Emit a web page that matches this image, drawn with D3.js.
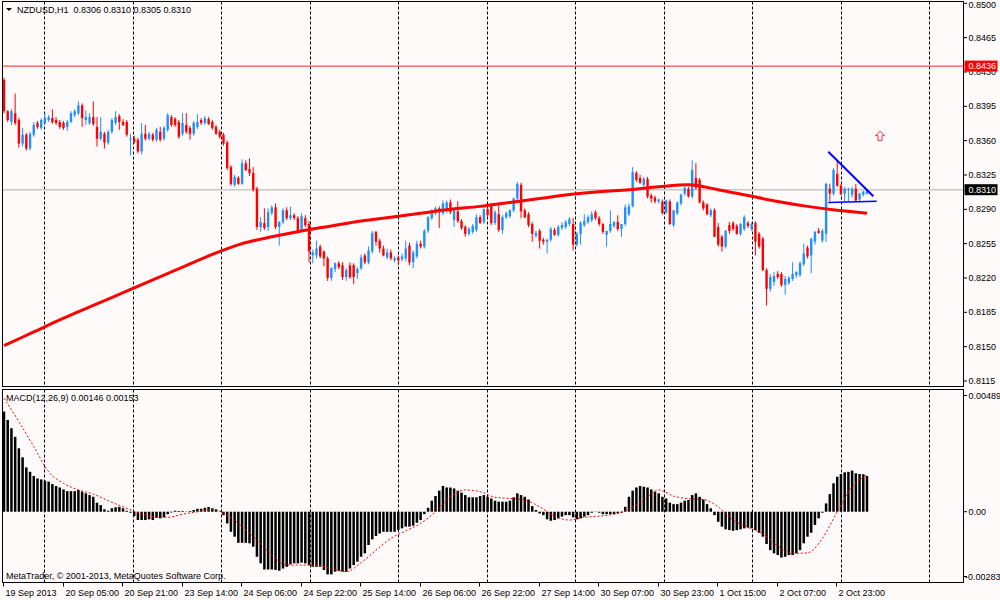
<!DOCTYPE html>
<html>
<head>
<meta charset="utf-8">
<script src="https://cdn.jsdelivr.net/npm/d3@7"></script>
<style>
html, body { margin: 0; padding: 0; background: #fffafa; }
svg { display: block; font-family: "Liberation Sans", Arial, sans-serif; }
</style>
</head>
<body>
<div id="chart"></div>
<script>
/* === NZDUSD H1 candles + MA + MACD (D3.js v7) === */

var symbolTitle = 'NZDUSD,H1  0.8306 0.8310 0.8305 0.8310';
var macdTitle = 'MACD(12,26,9) 0.00146 0.00153';
var copyright = 'MetaTrader, \u00a9 2001-2013, MetaQuotes Software Corp.';

// hourly bars, index 0 = 19 Sep 2013 13:00
var opens = [
    .8422,.8390,.8379,.8388,.8381,.8357,.8366,.8352,.8366,.8378,
    .8373,.8378,.8381,.8383,.8381,.8379,.8378,.8374,.8379,.8386,
    .8388,.8396,.8381,.8378,.8384,.8374,.8362,.8367,.8358,.8369,
    .8378,.8385,.8379,.8379,.8361,.8362,.8361,.8349,.8367,.8362,
    .8366,.8361,.8369,.8362,.8371,.8384,.8382,.8379,.8367,.8376,
    .8373,.8367,.8374,.8381,.8378,.8382,.8379,.8374,.8369,.8366,
    .8358,.8333,.8315,.8322,.8316,.8337,.8331,.8327,.8311,.8272,
    .8276,.8272,.8286,.8292,.8272,.8277,.8289,.8281,.8284,.8281,
    .8269,.8281,.8275,.8243,.8243,.8252,.8247,.8240,.8220,.8229,
    .8235,.8233,.8221,.8233,.8233,.8225,.8230,.8243,.8236,.8247,
    .8267,.8258,.8250,.8241,.8246,.8238,.8241,.8239,.8240,.8253,
    .8236,.8242,.8255,.8252,.8268,.8281,.8286,.8291,.8286,.8289,
    .8297,.8279,.8288,.8278,.8272,.8265,.8267,.8269,.8282,.8277,
    .8290,.8294,.8276,.8285,.8269,.8282,.8283,.8289,.8301,.8315,
    .8289,.8285,.8275,.8263,.8268,.8259,.8257,.8259,.8269,.8264,
    .8271,.8272,.8275,.8275,.8254,.8265,.8274,.8277,.8279,.8287,
    .8281,.8275,.8264,.8268,.8273,.8277,.8270,.8275,.8285,.8293,
    .8327,.8322,.8315,.8321,.8304,.8302,.8298,.8298,.8287,.8298,
    .8274,.8286,.8296,.8306,.8311,.8303,.8322,.8320,.8297,.8295,
    .8284,.8289,.8272,.8262,.8252,.8274,.8276,.8273,.8265,.8270,
    .8276,.8270,.8276,.8265,.8260,.8228,.8209,.8216,.8224,.8224,
    .8213,.8215,.8219,.8223,.8223,.8234,.8251,.8243,.8257,.8268,
    .8258,.8265,.8311,.8306,.8326,.8314,.8306,.8310,.8305,.8311,
    .8300,.8305,.8306
];
var highs = [
    .8424,.8391,.8392,.8408,.8383,.8373,.8368,.8369,.8379,.8380,
    .8383,.8388,.8386,.8392,.8384,.8381,.8380,.8381,.8390,.8392,
    .8400,.8398,.8391,.8388,.8400,.8384,.8384,.8369,.8371,.8383,
    .8390,.8387,.8382,.8381,.8367,.8365,.8363,.8378,.8376,.8369,
    .8368,.8373,.8374,.8375,.8388,.8386,.8384,.8381,.8388,.8388,
    .8375,.8380,.8387,.8383,.8385,.8384,.8381,.8376,.8371,.8368,
    .8360,.8335,.8325,.8324,.8341,.8340,.8342,.8333,.8313,.8282,
    .8291,.8291,.8294,.8296,.8278,.8291,.8292,.8293,.8286,.8283,
    .8286,.8284,.8278,.8249,.8258,.8254,.8248,.8242,.8231,.8236,
    .8237,.8236,.8230,.8236,.8235,.8231,.8244,.8245,.8252,.8268,
    .8268,.8260,.8253,.8250,.8249,.8242,.8243,.8245,.8258,.8256,
    .8248,.8258,.8258,.8270,.8283,.8290,.8293,.8293,.8299,.8299,
    .8300,.8291,.8298,.8280,.8274,.8272,.8275,.8285,.8284,.8291,
    .8292,.8296,.8289,.8294,.8284,.8288,.8290,.8302,.8318,.8317,
    .8291,.8287,.8277,.8268,.8270,.8261,.8260,.8272,.8271,.8274,
    .8277,.8279,.8282,.8281,.8267,.8278,.8285,.8284,.8288,.8289,
    .8283,.8276,.8268,.8289,.8278,.8284,.8275,.8295,.8296,.8333,
    .8329,.8325,.8323,.8323,.8306,.8304,.8301,.8300,.8300,.8300,
    .8289,.8298,.8306,.8313,.8313,.8340,.8337,.8322,.8299,.8296,
    .8291,.8291,.8276,.8264,.8269,.8277,.8278,.8275,.8276,.8284,
    .8278,.8277,.8278,.8267,.8262,.8230,.8224,.8226,.8227,.8226,
    .8222,.8222,.8236,.8227,.8237,.8255,.8253,.8261,.8268,.8271,
    .8270,.8317,.8316,.8332,.8340,.8316,.8313,.8312,.8313,.8316,
    .8307,.8309,.8310
];
var lows = [
    .8388,.8379,.8376,.8376,.8353,.8354,.8350,.8350,.8364,.8372,
    .8371,.8376,.8379,.8377,.8376,.8372,.8371,.8370,.8378,.8384,
    .8386,.8374,.8376,.8376,.8375,.8354,.8360,.8352,.8356,.8367,
    .8376,.8371,.8375,.8364,.8345,.8357,.8347,.8346,.8360,.8360,
    .8359,.8359,.8359,.8360,.8369,.8374,.8374,.8362,.8365,.8367,
    .8361,.8365,.8372,.8376,.8376,.8376,.8371,.8366,.8362,.8355,
    .8330,.8314,.8313,.8315,.8315,.8329,.8324,.8308,.8269,.8267,
    .8269,.8268,.8284,.8270,.8253,.8275,.8279,.8279,.8279,.8265,
    .8267,.8272,.8236,.8235,.8240,.8240,.8232,.8217,.8217,.8226,
    .8229,.8218,.8217,.8219,.8214,.8219,.8228,.8234,.8234,.8245,
    .8253,.8246,.8242,.8239,.8238,.8236,.8233,.8237,.8237,.8233,
    .8230,.8240,.8250,.8250,.8266,.8279,.8284,.8271,.8284,.8286,
    .8285,.8272,.8276,.8269,.8262,.8263,.8265,.8267,.8275,.8275,
    .8282,.8274,.8274,.8267,.8265,.8280,.8281,.8287,.8299,.8281,
    .8281,.8272,.8257,.8261,.8250,.8254,.8245,.8257,.8263,.8262,
    .8269,.8270,.8273,.8248,.8252,.8254,.8272,.8275,.8277,.8279,
    .8273,.8265,.8252,.8266,.8271,.8268,.8262,.8273,.8283,.8292,
    .8318,.8316,.8313,.8301,.8297,.8296,.8296,.8285,.8285,.8274,
    .8272,.8284,.8294,.8304,.8302,.8301,.8310,.8296,.8289,.8284,
    .8282,.8262,.8252,.8247,.8250,.8265,.8268,.8264,.8263,.8268,
    .8271,.8268,.8243,.8250,.8227,.8192,.8206,.8212,.8219,.8211,
    .8203,.8213,.8217,.8220,.8221,.8232,.8240,.8225,.8254,.8265,
    .8256,.8257,.8298,.8304,.8313,.8304,.8298,.8298,.8302,.8298,
    .8298,.8303,.8305
];
var closes = [
    .8390,.8381,.8390,.8378,.8357,.8366,.8352,.8367,.8376,.8374,
    .8381,.8383,.8384,.8379,.8378,.8374,.8373,.8379,.8388,.8390,
    .8396,.8383,.8384,.8384,.8377,.8362,.8369,.8358,.8369,.8381,
    .8384,.8379,.8376,.8366,.8362,.8359,.8349,.8367,.8362,.8367,
    .8361,.8371,.8361,.8373,.8386,.8376,.8376,.8364,.8378,.8369,
    .8367,.8378,.8379,.8378,.8383,.8377,.8373,.8367,.8364,.8357,
    .8332,.8316,.8323,.8316,.8337,.8330,.8327,.8310,.8272,.8277,
    .8271,.8287,.8292,.8272,.8277,.8289,.8281,.8284,.8281,.8267,
    .8283,.8274,.8247,.8246,.8250,.8242,.8240,.8220,.8230,.8235,
    .8231,.8221,.8228,.8221,.8221,.8229,.8241,.8236,.8248,.8266,
    .8257,.8250,.8243,.8246,.8240,.8240,.8238,.8242,.8250,.8236,
    .8246,.8255,.8252,.8268,.8282,.8289,.8291,.8287,.8296,.8297,
    .8287,.8289,.8278,.8271,.8265,.8270,.8273,.8282,.8276,.8290,
    .8284,.8276,.8287,.8269,.8282,.8286,.8289,.8301,.8316,.8288,
    .8282,.8274,.8265,.8266,.8258,.8257,.8259,.8270,.8264,.8272,
    .8274,.8277,.8280,.8254,.8265,.8276,.8278,.8282,.8285,.8281,
    .8275,.8267,.8268,.8275,.8277,.8270,.8275,.8292,.8293,.8328,
    .8320,.8317,.8321,.8303,.8301,.8298,.8300,.8286,.8299,.8275,
    .8289,.8297,.8305,.8312,.8303,.8330,.8312,.8297,.8291,.8285,
    .8289,.8262,.8254,.8252,.8268,.8268,.8270,.8265,.8275,.8282,
    .8273,.8275,.8257,.8252,.8228,.8209,.8221,.8222,.8221,.8213,
    .8219,.8220,.8224,.8226,.8235,.8245,.8242,.8260,.8267,.8266,
    .8268,.8316,.8306,.8330,.8314,.8306,.8311,.8311,.8311,.8299,
    .8306,.8308,.8310
];

// moving average, read every 8 bars
var maBars = [0,8,16,24,32,40,48,56,64,72,80,88,96,104,112,120,128,136,144,152,160,168,176,184,192,200,208,216,224,232];
var maValues = [.8151,.8165,.8179,.8192,.8205,.8218,.8231,.8244,.8255,.8262,.8268,.8273,.8278,.8282,.8286,
    .8290,.8293,.8297,.8301,.8305,.8308,.8310,.8313,.8315,.8310,.8304,.8298,.8293,.8289,.8286];

// MACD main (histogram), one value per bar
var macdMain = [
    .00409,.00375,.00341,.00306,.00259,.00222,.00181,.00163,.00146,.00136,
    .00132,.00127,.00123,.00113,.00105,.00099,.00091,.00084,.00084,.00084,
    .00089,.00082,.00075,.00068,.00061,.00037,.00027,.00010,.00004,.00014,
    .00018,.00020,.00014,.00004,-.00004,-.00018,-.00034,-.00034,-.00034,-.00031,
    -.00034,-.00025,-.00027,-.00023,-.00010,-.00003,.00004,.00003,.00003,.00001,
    .00003,.00007,.00012,.00012,.00016,.00019,.00014,.00010,-.00001,-.00014,
    -.00048,-.00082,-.00102,-.00127,-.00127,-.00127,-.00129,-.00143,-.00184,-.00211,
    -.00236,-.00236,-.00236,-.00238,-.00241,-.00232,-.00225,-.00215,-.00211,-.00211,
    -.00208,-.00211,-.00218,-.00225,-.00225,-.00225,-.00238,-.00256,-.00256,-.00245,
    -.00242,-.00245,-.00245,-.00232,-.00218,-.00204,-.00184,-.00170,-.00136,-.00113,
    -.00099,-.00089,-.00082,-.00082,-.00082,-.00082,-.00075,-.00068,-.00061,-.00061,
    -.00057,-.00045,-.00034,-.00010,.00016,.00045,.00064,.00086,.00105,.00099,
    .00099,.00095,.00086,.00078,.00068,.00059,.00059,.00059,.00064,.00068,
    .00061,.00054,.00045,.00041,.00041,.00041,.00045,.00059,.00075,.00068,
    .00061,.00050,.00023,.00007,-.00007,-.00014,-.00031,-.00037,-.00034,-.00027,
    -.00020,-.00014,-.00014,-.00023,-.00031,-.00027,-.00020,-.00014,-.00004,.00001,
    -.00004,-.00010,-.00010,-.00010,-.00010,-.00007,-.00004,.00020,.00061,.00086,
    .00099,.00105,.00102,.00099,.00091,.00082,.00075,.00061,.00054,.00037,
    .00031,.00031,.00037,.00045,.00048,.00068,.00075,.00061,.00050,.00031,
    .00014,-.00014,-.00041,-.00061,-.00072,-.00075,-.00078,-.00075,-.00072,-.00068,
    -.00065,-.00068,-.00075,-.00086,-.00102,-.00132,-.00157,-.00170,-.00177,-.00187,
    -.00184,-.00177,-.00177,-.00170,-.00157,-.00129,-.00102,-.00086,-.00054,-.00027,
    -.00004,.00034,.00072,.00116,.00143,.00154,.00161,.00163,.00168,.00157,
    .00154,.00153,.00146
];

// MACD signal, read every 4 bars
var signalBars = d3.range(0, 233, 4);
var signalValues = [
    .00463,.00368,.00266,.00163,.00116,.00089,.00072,.00045,.00020,-.00004,
    -.00020,-.00023,-.00010,.00000,.00010,-.00014,-.00061,-.00116,-.00177,-.00218,
    -.00218,-.00218,-.00232,-.00245,-.00208,-.00157,-.00109,-.00078,-.00048,.00000,
    .00061,.00089,.00082,.00059,.00054,.00048,.00020,-.00018,-.00034,-.00023,
    -.00018,-.00010,.00010,.00048,.00089,.00064,.00053,.00050,.00020,-.00034,
    -.00064,-.00091,-.00140,-.00170,-.00168,-.00109,.00000,.00102,.00150
];

var priceTicks = [.8500,.8465,.8430,.8395,.8360,.8325,.8290,.8255,.8220,.8185,.8150,.8115];
var timeBars = [0,16,32,48,64,80,96,112,128,144,160,176,192,208,224];
var timeLabels = ['19 Sep 2013','20 Sep 05:00','20 Sep 21:00','23 Sep 14:00','24 Sep 06:00',
    '24 Sep 22:00','25 Sep 14:00','26 Sep 06:00','26 Sep 22:00','27 Sep 14:00',
    '30 Sep 07:00','30 Sep 23:00','1 Oct 15:00','2 Oct 07:00','2 Oct 23:00'];

var levelPrice = 0.8436;
var lastPrice = 0.8310;
var macdMax = 0.00489, macdMin = -0.00283;

// drawn objects: triangle lines and arrow
var trendLines = [
    { b1: 221.6, p1: 0.83486, b2: 233.7, p2: 0.83034, w: 2 },
    { b1: 221.6, p1: 0.82969, b2: 234.6, p2: 0.82983, w: 1.6 }
];
var arrowMark = { bar: 235.5, price: 0.83646 };

/* ---------- layout ---------- */
var W = 1000, H = 600;
var L = 2.5, R = 963.5;
var mainTop = 1.5, mainBottom = 386.5;
var macdTop = 389.5, macdBottom = 582.5;
var BULL = '#1e90ff', BEAR = '#ff0000';

var svg = d3.select('#chart').append('svg')
    .attr('width', W).attr('height', H)
    .attr('viewBox', '0 0 ' + W + ' ' + H);

svg.append('rect').attr('width', W).attr('height', H).attr('fill', '#fffafa');

var x = d3.scaleLinear().domain([0, 232]).range([4, 867]);
var y = d3.scaleLinear().domain([0.8115, 0.8500]).range([381, 3.3]);
var ym = d3.scaleLinear().domain([macdMin, macdMax]).range([581, 392]);

var defs = svg.append('defs');
defs.append('clipPath').attr('id', 'clipMain').append('rect')
    .attr('x', L).attr('y', mainTop).attr('width', R - L).attr('height', mainBottom - mainTop);
defs.append('clipPath').attr('id', 'clipMacd').append('rect')
    .attr('x', L).attr('y', macdTop).attr('width', R - L).attr('height', macdBottom - macdTop);

// grid (vertical dashed)
var gridBars = d3.range(0, 11).map(function(k) { return 10.8 + 23.8 * k; });
[[mainTop, mainBottom], [macdTop, macdBottom]].forEach(function(span) {
    svg.append('g').selectAll('line')
        .data(gridBars)
        .join('line')
        .attr('x1', function(d) { return Math.round(x(d)) + 0.5; })
        .attr('x2', function(d) { return Math.round(x(d)) + 0.5; })
        .attr('y1', span[0]).attr('y2', span[1])
        .attr('stroke', '#000').attr('stroke-width', 1)
        .attr('stroke-dasharray', '3,2');
});

/* ---------- main panel ---------- */
var main = svg.append('g').attr('clip-path', 'url(#clipMain)');

// horizontal level + current price line
main.append('line')
    .attr('x1', L).attr('x2', R)
    .attr('y1', y(levelPrice)).attr('y2', y(levelPrice))
    .attr('stroke', '#ff2020').attr('stroke-width', 1);
main.append('line')
    .attr('x1', L).attr('x2', R)
    .attr('y1', y(lastPrice)).attr('y2', y(lastPrice))
    .attr('stroke', '#c8c8c8').attr('stroke-width', 1.5);

var bars = d3.range(closes.length).map(function(i) {
    return { i: i, o: opens[i], h: highs[i], l: lows[i], c: closes[i] };
});

var candle = main.append('g').selectAll('g')
    .data(bars)
    .join('g')
    .attr('stroke', function(d) { return d.c >= d.o ? BULL : BEAR; })
    .attr('fill', function(d) { return d.c >= d.o ? BULL : BEAR; });

candle.append('line')
    .attr('x1', function(d) { return x(d.i); })
    .attr('x2', function(d) { return x(d.i); })
    .attr('y1', function(d) { return y(d.h); })
    .attr('y2', function(d) { return y(d.l); })
    .attr('stroke-width', 1);

candle.append('rect')
    .attr('stroke', 'none')
    .attr('x', function(d) { return x(d.i) - 1.2; })
    .attr('width', 2.4)
    .attr('y', function(d) { return y(Math.max(d.o, d.c)); })
    .attr('height', function(d) { return Math.max(1, Math.abs(y(d.o) - y(d.c))); });

// moving average
var maLine = d3.line()
    .x(function(d) { return x(d[0]); })
    .y(function(d) { return y(d[1]); })
    .curve(d3.curveMonotoneX);
main.append('path')
    .datum(maBars.map(function(b, k) { return [b, maValues[k]]; }))
    .attr('d', maLine)
    .attr('fill', 'none')
    .attr('stroke', '#ff0000')
    .attr('stroke-width', 3)
    .attr('stroke-linejoin', 'round');

// triangle
main.append('g').selectAll('line')
    .data(trendLines)
    .join('line')
    .attr('x1', function(d) { return x(d.b1); })
    .attr('y1', function(d) { return y(d.p1); })
    .attr('x2', function(d) { return x(d.b2); })
    .attr('y2', function(d) { return y(d.p2); })
    .attr('stroke', '#0000ff')
    .attr('stroke-width', function(d) { return d.w; });

// up arrow
var ax = x(arrowMark.bar), ay = y(arrowMark.price);
main.append('path')
    .attr('transform', 'translate(' + ax + ',' + ay + ')')
    .attr('d', 'M0,-5L4.5,-0.5L2,-0.5L2,4.5L-2,4.5L-2,-0.5L-4.5,-0.5Z')
    .attr('fill', '#fff4f4')
    .attr('stroke', '#ff3040')
    .attr('stroke-width', 1);

/* ---------- MACD panel ---------- */
var macd = svg.append('g').attr('clip-path', 'url(#clipMacd)');

macd.append('g').selectAll('rect')
    .data(macdMain)
    .join('rect')
    .attr('x', function(d, i) { return x(i) - 1.25; })
    .attr('width', 2.5)
    .attr('y', function(d) { return ym(Math.max(0, d)); })
    .attr('height', function(d) { return Math.abs(ym(d) - ym(0)); })
    .attr('fill', '#000');

var sigLine = d3.line()
    .x(function(d) { return x(d[0]); })
    .y(function(d) { return ym(d[1]); })
    .curve(d3.curveMonotoneX);
macd.append('path')
    .datum(signalBars.map(function(b, k) { return [b, signalValues[k]]; }))
    .attr('d', sigLine)
    .attr('fill', 'none')
    .attr('stroke', '#ff0000')
    .attr('stroke-width', 1)
    .attr('stroke-dasharray', '2,2');

/* ---------- frames ---------- */
[[mainTop, mainBottom], [macdTop, macdBottom]].forEach(function(span) {
    svg.append('rect')
        .attr('x', L).attr('y', span[0])
        .attr('width', R - L).attr('height', span[1] - span[0])
        .attr('fill', 'none').attr('stroke', '#000').attr('stroke-width', 1);
});

/* ---------- price axis ---------- */
var axisG = svg.append('g').attr('font-size', 9).attr('fill', '#000');

var pt = axisG.selectAll('g.pt')
    .data(priceTicks)
    .join('g')
    .attr('class', 'pt')
    .attr('transform', function(d) { return 'translate(0,' + y(d) + ')'; });
pt.append('line').attr('x1', R).attr('x2', R + 3.5).attr('stroke', '#000');
pt.append('text').attr('x', R + 5)
    .attr('dy', function(d, i) { return i === 0 ? '0.5em' : '0.35em'; })
    .text(function(d) { return d.toFixed(4); });

function priceTag(value, bg) {
    var g = axisG.append('g').attr('transform', 'translate(0,' + y(value) + ')');
    g.append('rect').attr('x', R + 1).attr('y', -5.5).attr('width', 33).attr('height', 11).attr('fill', bg);
    g.append('text').attr('x', R + 5).attr('dy', '0.35em').attr('fill', '#fff')
        .text(value.toFixed(4));
}
priceTag(levelPrice, '#ff0000');
priceTag(lastPrice, '#000');

// MACD axis
var macdTicks = [
    { v: macdMax, off: 3.5, label: '0.00489' },
    { v: 0, off: 0, label: '0.00' },
    { v: macdMin, off: -4.5, label: '-0.00283' }
];
var mt = axisG.selectAll('g.mt')
    .data(macdTicks)
    .join('g')
    .attr('class', 'mt')
    .attr('transform', function(d) { return 'translate(0,' + (ym(d.v) + d.off) + ')'; });
mt.append('line').attr('x1', R).attr('x2', R + 3.5).attr('stroke', '#000');
mt.append('text')
    .attr('x', function(d) { return d.v < 0 ? R + 1.5 : R + 5; })
    .attr('dy', '0.35em')
    .text(function(d) { return d.label; });

/* ---------- time axis ---------- */
var tt = axisG.selectAll('g.tt')
    .data(timeBars)
    .join('g')
    .attr('class', 'tt')
    .attr('transform', function(d) { return 'translate(' + (Math.round(x(d)) - 0.5) + ',0)'; });
tt.append('line').attr('y1', macdBottom).attr('y2', macdBottom + 4).attr('stroke', '#000');
tt.append('text').attr('x', 2).attr('y', 595.5)
    .text(function(d, i) { return timeLabels[i]; });

/* ---------- titles ---------- */
svg.append('path').attr('d', 'M6,8L12,8L9,11Z').attr('fill', '#000');
svg.append('text').attr('x', 17).attr('y', 13).attr('font-size', 9).text(symbolTitle)
    .attr('xml:space', 'preserve').style('white-space', 'pre');
svg.append('text').attr('x', 6).attr('y', 401).attr('font-size', 9).text(macdTitle);
svg.append('text').attr('x', 6).attr('y', 579).attr('font-size', 9).text(copyright);
</script>
</body>
</html>
